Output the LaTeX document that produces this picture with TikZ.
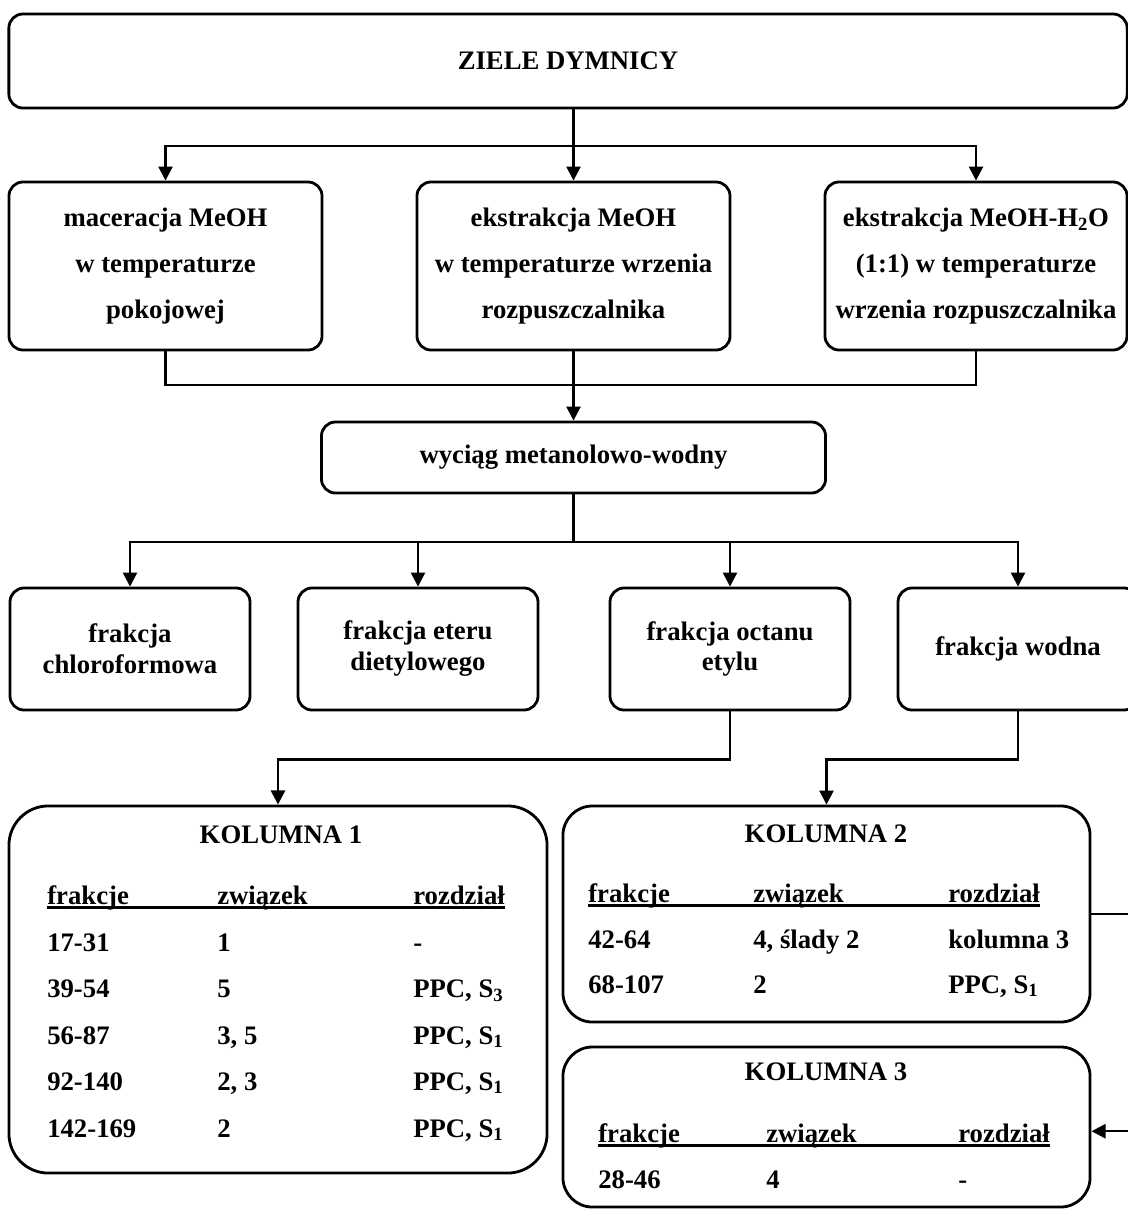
\documentclass[tikz,border=0pt]{standalone}
\usepackage{fontspec}
\setmainfont{Liberation Serif}
\usetikzlibrary{arrows.meta, positioning}

\begin{document}
\begin{tikzpicture}[x=0.025cm, y=-0.025cm, >={Triangle[length=10pt, width=10pt]},
    box/.style={draw, line width=2pt, rounded corners=10pt, align=center, inner sep=0pt,
        font=\fontsize{19}{32.7}\selectfont\bfseries},
    boxs/.style={box, font=\fontsize{19}{22}\selectfont\bfseries},
    kolumna/.style={draw, line width=2pt, rounded corners=21pt, inner sep=0pt},
    title/.style={anchor=base, inner sep=0pt, font=\fontsize{19}{22}\selectfont\bfseries},
    cell/.style={anchor=base west, inner sep=0pt, font=\fontsize{19}{22}\selectfont\bfseries},
    underline/.style={line width=1.8pt},
    link/.style={line width=1.8pt}]
    % Page frame
    \useasboundingbox (0,0) rectangle (1128,1209);
    \clip (0,0) rectangle (1128,1209);

    % Plant material
    \node[box, minimum width=27.95cm, minimum height=2.35cm] (ziele) at (568,61) {ZIELE DYMNICY};

    % Extraction methods
    \node[box, minimum width=7.825cm, minimum height=4.2cm] (macer) at (165.5,266)
        {maceracja MeOH\\ w temperaturze\\ pokojowej};
    \node[box, minimum width=7.825cm, minimum height=4.2cm] (ekstr) at (573.5,266)
        {ekstrakcja MeOH\\ w temperaturze wrzenia\\ rozpuszczalnika};
    \node[box, minimum width=7.55cm, minimum height=4.2cm] (ekstrwod) at (976,266)
        {ekstrakcja MeOH-H\textsubscript{2}O\\ (1:1) w temperaturze\\ wrzenia rozpuszczalnika};

    \coordinate (split1) at (573.5,146);
    \draw[link, ->] (ekstr.north |- ziele.south) -- (ekstr.north);
    \draw[link, ->] (split1) -| (macer.north);
    \draw[link, ->] (split1) -| (ekstrwod.north);

    % Combined extract
    \node[box, minimum width=12.6cm, minimum height=1.775cm] (wyciag) at (573.5,457.5)
        {wyciąg metanolowo-wodny};
    \coordinate (join1) at (573.5,385);
    \draw[link] (macer.south) |- (join1) -| (ekstrwod.south);
    \draw[link, ->] (ekstr.south) -- (wyciag.north);

    % Fractions
    \node[boxs, minimum width=6cm, minimum height=3.05cm] (chloro) at (130,649) {frakcja\\ chloroformowa};
    \node[boxs, minimum width=6cm, minimum height=3.05cm] (eter) at (418,649) {frakcja eteru\\ dietylowego};
    \node[boxs, minimum width=6cm, minimum height=3.05cm] (octan) at (730,649) {frakcja octanu\\ etylu};
    \node[boxs, minimum width=6cm, minimum height=3.05cm] (wodna) at (1018,649) {frakcja wodna};

    \coordinate (split2) at (573.5,542);
    \draw[link] (wyciag.south) -- (split2);
    \draw[link, ->] (split2) -| (chloro.north);
    \draw[link, ->] (split2) -| (eter.north);
    \draw[link, ->] (split2) -| (octan.north);
    \draw[link, ->] (split2) -| (wodna.north);

    % Columns
    \node[kolumna, rounded corners=28pt, minimum width=13.45cm, minimum height=9.175cm] (kol1) at (278,989.5) {};
    \node[kolumna, minimum width=13.175cm, minimum height=5.4cm] (kol2) at (826.5,914) {};
    \node[kolumna, minimum width=13.175cm, minimum height=4cm] (kol3) at (826.5,1127) {};

    \draw[link, ->] (octan.south) -- ++(0,48) -| (kol1.north);
    \draw[link, ->] (wodna.south) -- ++(0,48) -| (kol2.north);
    \coordinate (bypass) at (1140,914);
    \draw[link, ->] (kol2.east) -- (bypass) |- ([yshift=-3pt]kol3.east);

    % Kolumna 1
    \node[title] (k1tytul) at (281,843) {KOLUMNA 1};
    \node[cell] (k1h1) at (47,904) {frakcje};
    \node[cell] (k1h2) at (217,904) {związek};
    \node[cell] (k1h3) at (413,904) {rozdział};
    \draw[underline] ([yshift=-2.5pt]k1h1.base west) -- ([yshift=-2.5pt]k1h3.base east);
    \node[cell] (k1a1) at (47,951) {17-31};
    \node[cell] (k1b1) at (217,951) {1};
    \node[cell] (k1c1) at (413,951) {-};
    \node[cell] (k1a2) at (47,997) {39-54};
    \node[cell] (k1b2) at (217,997) {5};
    \node[cell] (k1c2) at (413,997) {PPC, S\textsubscript{3}};
    \node[cell] (k1a3) at (47,1044) {56-87};
    \node[cell] (k1b3) at (217,1044) {3, 5};
    \node[cell] (k1c3) at (413,1044) {PPC, S\textsubscript{1}};
    \node[cell] (k1a4) at (47,1090) {92-140};
    \node[cell] (k1b4) at (217,1090) {2, 3};
    \node[cell] (k1c4) at (413,1090) {PPC, S\textsubscript{1}};
    \node[cell] (k1a5) at (47,1137) {142-169};
    \node[cell] (k1b5) at (217,1137) {2};
    \node[cell] (k1c5) at (413,1137) {PPC, S\textsubscript{1}};

    % Kolumna 2
    \node[title] (k2tytul) at (826,842) {KOLUMNA 2};
    \node[cell] (k2h1) at (588,902) {frakcje};
    \node[cell] (k2h2) at (753,902) {związek};
    \node[cell] (k2h3) at (948,902) {rozdział};
    \draw[underline] ([yshift=-2.5pt]k2h1.base west) -- ([yshift=-2.5pt]k2h3.base east);
    \node[cell] (k2a1) at (588,948) {42-64};
    \node[cell] (k2b1) at (753,948) {4, ślady 2};
    \node[cell] (k2c1) at (948,948) {kolumna 3};
    \node[cell] (k2a2) at (588,993) {68-107};
    \node[cell] (k2b2) at (753,993) {2};
    \node[cell] (k2c2) at (948,993) {PPC, S\textsubscript{1}};

    % Kolumna 3
    \node[title] (k3tytul) at (826,1080) {KOLUMNA 3};
    \node[cell] (k3h1) at (598,1142) {frakcje};
    \node[cell] (k3h2) at (766,1142) {związek};
    \node[cell] (k3h3) at (958,1142) {rozdział};
    \draw[underline] ([yshift=-2.5pt]k3h1.base west) -- ([yshift=-2.5pt]k3h3.base east);
    \node[cell] (k3a1) at (598,1188) {28-46};
    \node[cell] (k3b1) at (766,1188) {4};
    \node[cell] (k3c1) at (958,1188) {-};
\end{tikzpicture}
\end{document}
